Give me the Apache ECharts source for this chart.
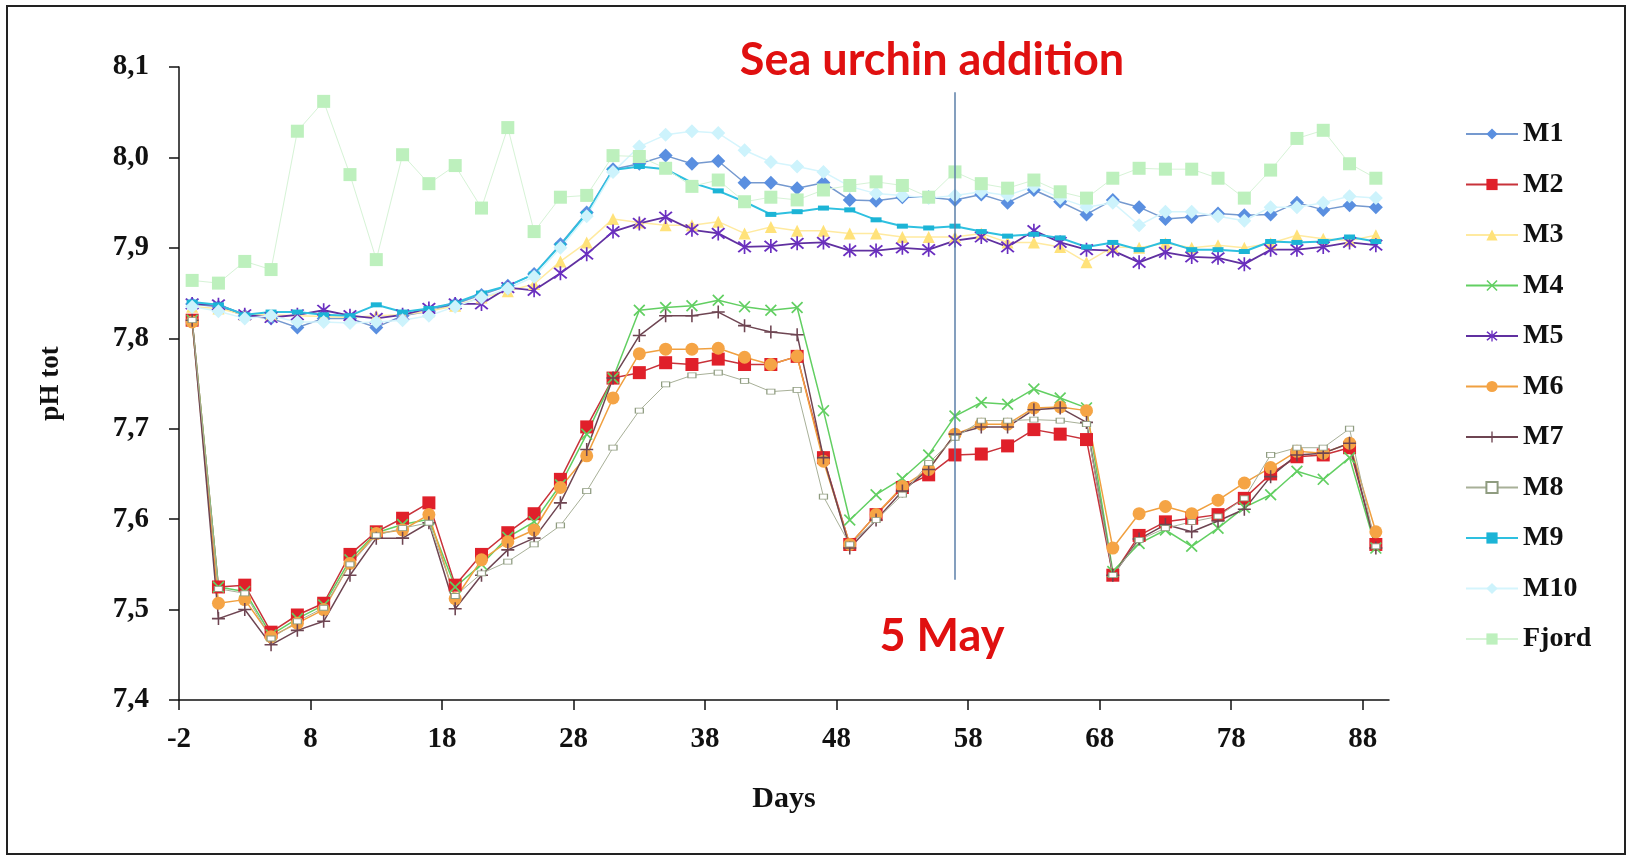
<!DOCTYPE html>
<html>
<head>
<meta charset="utf-8">
<title>pH tot</title>
<script src="https://cdn.jsdelivr.net/npm/echarts@6/dist/echarts.min.js"></script>
<style>
  html, body { margin: 0; padding: 0; background: #fff; }
  #main { width: 1629px; height: 859px; }
</style>
</head>
<body>
<div id="main"></div>
<script>
// sampling days (every 2nd day)
var days = [-1, 1, 3, 5, 7, 9, 11, 13, 15, 17, 19, 21, 23, 25, 27, 29, 31, 33, 35, 37, 39, 41, 43,
  45, 47, 49, 51, 53, 55, 57, 59, 61, 63, 65, 67, 69, 71, 73, 75, 77, 79, 81, 83, 85, 87, 89];
var xTicks = [-2, 8, 18, 28, 38, 48, 58, 68, 78, 88];

var m1 = [7.838, 7.835, 7.825, 7.822, 7.812, 7.822, 7.822, 7.812, 7.825, 7.830, 7.838, 7.848, 7.858,
  7.871, 7.904, 7.939, 7.987, 7.993, 8.002, 7.993, 7.996, 7.972, 7.972, 7.966, 7.972, 7.953, 7.952,
  7.956, 7.956, 7.953, 7.959, 7.950, 7.964, 7.951, 7.937, 7.953, 7.945, 7.932, 7.934, 7.938, 7.936,
  7.937, 7.950, 7.942, 7.947, 7.945];
var m2 = [7.820, 7.525, 7.527, 7.475, 7.494, 7.507, 7.561, 7.586, 7.601, 7.618, 7.527, 7.561, 7.585,
  7.606, 7.644, 7.702, 7.756, 7.762, 7.773, 7.771, 7.777, 7.771, 7.771, 7.780, 7.668, 7.572, 7.605,
  7.635, 7.649, 7.671, 7.672, 7.681, 7.699, 7.694, 7.688, 7.538, 7.582, 7.597, 7.601, 7.605, 7.623,
  7.650, 7.669, 7.671, 7.679, 7.572];
var m3 = [7.835, 7.833, 7.826, 7.826, 7.825, 7.824, 7.823, 7.825, 7.826, 7.830, 7.836, 7.845, 7.852,
  7.860, 7.885, 7.906, 7.932, 7.928, 7.925, 7.925, 7.929, 7.916, 7.923, 7.919, 7.919, 7.916, 7.916,
  7.912, 7.912, 7.912, 7.916, 7.906, 7.906, 7.901, 7.884, 7.901, 7.900, 7.905, 7.900, 7.903, 7.900,
  7.905, 7.914, 7.910, 7.908, 7.914];
var m4 = [7.820, 7.525, 7.520, 7.472, 7.490, 7.505, 7.555, 7.585, 7.594, 7.600, 7.525, 7.550, 7.580,
  7.597, 7.638, 7.694, 7.756, 7.831, 7.834, 7.836, 7.842, 7.835, 7.831, 7.834, 7.720, 7.599, 7.627,
  7.645, 7.671, 7.714, 7.729, 7.727, 7.744, 7.734, 7.723, 7.542, 7.573, 7.588, 7.570, 7.590, 7.613,
  7.627, 7.653, 7.644, 7.668, 7.568];
var m5 = [7.838, 7.837, 7.826, 7.823, 7.826, 7.831, 7.825, 7.822, 7.826, 7.833, 7.838, 7.838, 7.856,
  7.853, 7.872, 7.893, 7.918, 7.927, 7.934, 7.920, 7.916, 7.901, 7.902, 7.905, 7.906, 7.897, 7.897,
  7.900, 7.898, 7.908, 7.912, 7.901, 7.919, 7.906, 7.898, 7.897, 7.884, 7.895, 7.890, 7.889, 7.882,
  7.898, 7.898, 7.901, 7.906, 7.903];
var m6 = [7.818, 7.507, 7.511, 7.470, 7.485, 7.500, 7.551, 7.584, 7.588, 7.605, 7.512, 7.555, 7.575,
  7.588, 7.635, 7.670, 7.734, 7.783, 7.788, 7.788, 7.789, 7.779, 7.771, 7.780, 7.664, 7.572, 7.605,
  7.636, 7.655, 7.694, 7.705, 7.705, 7.723, 7.724, 7.720, 7.568, 7.606, 7.614, 7.606, 7.621, 7.640,
  7.657, 7.675, 7.673, 7.684, 7.586];
var m7 = [7.820, 7.490, 7.500, 7.461, 7.477, 7.487, 7.538, 7.579, 7.579, 7.596, 7.501, 7.538, 7.566,
  7.579, 7.618, 7.677, 7.756, 7.803, 7.825, 7.825, 7.829, 7.814, 7.807, 7.804, 7.668, 7.568, 7.599,
  7.631, 7.655, 7.694, 7.702, 7.702, 7.721, 7.723, 7.707, 7.538, 7.578, 7.594, 7.586, 7.598, 7.611,
  7.647, 7.671, 7.673, 7.684, 7.568];
var m8 = [7.820, 7.523, 7.518, 7.468, 7.487, 7.502, 7.550, 7.582, 7.590, 7.596, 7.515, 7.540, 7.553,
  7.572, 7.593, 7.631, 7.679, 7.720, 7.749, 7.759, 7.762, 7.753, 7.741, 7.743, 7.625, 7.572, 7.599,
  7.627, 7.662, 7.690, 7.709, 7.709, 7.710, 7.709, 7.705, 7.538, 7.577, 7.590, 7.597, 7.603, 7.623,
  7.671, 7.679, 7.679, 7.700, 7.570];
var m9 = [7.840, 7.837, 7.826, 7.829, 7.829, 7.826, 7.825, 7.837, 7.829, 7.833, 7.839, 7.850, 7.858,
  7.871, 7.903, 7.938, 7.986, 7.990, 7.987, 7.972, 7.963, 7.951, 7.937, 7.940, 7.944, 7.942, 7.931,
  7.924, 7.922, 7.924, 7.918, 7.913, 7.915, 7.911, 7.901, 7.906, 7.898, 7.907, 7.898, 7.898, 7.896,
  7.907, 7.906, 7.907, 7.912, 7.907];
var m10 = [7.835, 7.830, 7.822, 7.825, 7.818, 7.818, 7.817, 7.818, 7.820, 7.825, 7.835, 7.845, 7.855,
  7.868, 7.900, 7.935, 7.984, 8.012, 8.025, 8.029, 8.027, 8.008, 7.995, 7.990, 7.984, 7.968, 7.960,
  7.958, 7.955, 7.958, 7.962, 7.958, 7.968, 7.955, 7.945, 7.950, 7.925, 7.940, 7.940, 7.935, 7.930,
  7.945, 7.945, 7.950, 7.957, 7.955];
var fjord = [7.864, 7.861, 7.885, 7.876, 8.029, 8.062, 7.981, 7.887, 8.003, 7.971, 7.991, 7.944, 8.033,
  7.918, 7.956, 7.958, 8.002, 8.001, 7.988, 7.968, 7.975, 7.951, 7.956, 7.953, 7.964, 7.969, 7.973,
  7.969, 7.956, 7.984, 7.971, 7.966, 7.975, 7.962, 7.955, 7.977, 7.988, 7.987, 7.987, 7.977, 7.955,
  7.986, 8.021, 8.030, 7.993, 7.977];

var urchinDay = 57;

// marker shapes
var xMark = 'path://M0,1L1,0L5,4L9,0L10,1L6,5L10,9L9,10L5,6L1,10L0,9L4,5Z';
var plusMark = 'path://M4.4,0H5.6V4.4H10V5.6H5.6V10H4.4V5.6H0V4.4H4.4Z';
var starMark = 'path://M0,1L1,0L5,4L9,0L10,1L6,5L10,9L9,10L5,6L1,10L0,9L4,5Z M4.4,-1H5.6V11H4.4Z';

function pairs(vals) {
  return days.map(function (d, i) { return [d, vals[i]]; });
}

function mk(name, vals, sym, size, fill, line, lw, border) {
  return {
    name: name,
    type: 'line',
    data: pairs(vals),
    symbol: sym,
    symbolSize: size,
    showSymbol: true,
    animation: false,
    emphasis: { disabled: true },
    itemStyle: border ? { color: fill, borderColor: border, borderWidth: 1 } : { color: fill },
    lineStyle: { color: line, width: lw }
  };
}

var serif = '"Liberation Serif", "DejaVu Serif", serif';

var chart = echarts.init(document.getElementById('main'));
var series = [
  mk('M1', m1, 'diamond', 14, '#5a8fe0', '#7599cf', 1.5),
  mk('M2', m2, 'rect', 13, '#e0202a', '#c8323a', 1.5),
  mk('M3', m3, 'triangle', 12, '#ffe27a', '#ffeaa0', 1.5),
  mk('M4', m4, xMark, 12, '#62cf62', '#62cf62', 1.5),
  mk('M5', m5, starMark, 14, '#6a2fc0', '#6030a0', 1.8),
  mk('M6', m6, 'circle', 13, '#f5a445', '#f0a040', 1.5),
  mk('M7', m7, plusMark, 13, '#6e4552', '#6e4552', 1.5),
  mk('M8', m8, 'rect', [8, 5], '#ffffff', '#a8b098', 1, '#8f9c80'),
  mk('M9', m9, 'rect', [11, 5], '#1cb4d6', '#2ec0e0', 2),
  mk('M10', m10, 'diamond', 14, '#cdf3fc', '#d5f5fd', 1.5),
  mk('Fjord', fjord, 'rect', 13, '#bdf0bd', '#d6f3d6', 1)
];
series[0].markLine = {
  silent: true,
  symbol: ['none', 'none'],
  label: { show: false },
  lineStyle: { color: '#5b7fa8', width: 1.5, type: 'solid' },
  data: [[{ coord: [urchinDay, 8.072] }, { coord: [urchinDay, 7.533] }]]
};

chart.setOption({
  backgroundColor: '#fff',
  animation: false,
  grid: { left: 179, top: 67, width: 1210, height: 633 },
  legend: {
    orient: 'vertical',
    left: 1465,
    top: 120,
    itemWidth: 52,
    itemHeight: 14,
    itemGap: 22.5,
    padding: 0,
    textStyle: { fontFamily: serif, fontWeight: 'bold', fontSize: 28, color: '#111', lineHeight: 26 },
    data: ['M1', 'M2', 'M3', 'M4', 'M5', 'M6', 'M7', 'M8', 'M9', 'M10', 'Fjord']
  },
  xAxis: {
    type: 'value',
    min: -2,
    max: 90,
    interval: 10,
    name: 'Days',
    nameLocation: 'middle',
    nameGap: 84,
    nameTextStyle: { fontFamily: serif, fontWeight: 'bold', fontSize: 30, color: '#111' },
    splitLine: { show: false },
    axisLine: { onZero: false, lineStyle: { color: '#111', width: 1.5 } },
    axisTick: { inside: false, length: 10, customValues: xTicks, lineStyle: { color: '#111', width: 1.5 } },
    axisLabel: {
      customValues: xTicks,
      margin: 25,
      fontFamily: serif, fontWeight: 'bold', fontSize: 29, color: '#111'
    }
  },
  yAxis: {
    type: 'value',
    min: 7.4,
    max: 8.1,
    interval: 0.1,
    name: 'pH tot',
    nameLocation: 'middle',
    nameGap: 114,
    nameRotate: 90,
    nameTextStyle: { fontFamily: serif, fontWeight: 'bold', fontSize: 27, color: '#111' },
    splitLine: { show: false },
    axisLine: { show: true, onZero: false, lineStyle: { color: '#111', width: 1.5 } },
    axisTick: { show: true, inside: false, length: 10, lineStyle: { color: '#111', width: 1.5 } },
    axisLabel: {
      margin: 30,
      fontFamily: serif, fontWeight: 'bold', fontSize: 29, color: '#111',
      formatter: function (v) { return v.toFixed(1).replace('.', ','); }
    }
  },
  graphic: [
    {
      type: 'rect', silent: true,
      shape: { x: 7, y: 6, width: 1618, height: 848 },
      style: { fill: 'none', stroke: '#222', lineWidth: 2 }
    },
    {
      type: 'text', silent: true, x: 932, y: 60,
      style: {
        text: 'Sea urchin addition', fill: '#e01010', align: 'center', verticalAlign: 'middle',
        font: 'bold 45px Lato, "Open Sans", sans-serif'
      }
    },
    {
      type: 'text', silent: true, x: 942, y: 636,
      style: {
        text: '5 May', fill: '#e01010', align: 'center', verticalAlign: 'middle',
        font: 'bold 45px Lato, "Open Sans", sans-serif'
      }
    }
  ],
  series: series
});
</script>
</body>
</html>
